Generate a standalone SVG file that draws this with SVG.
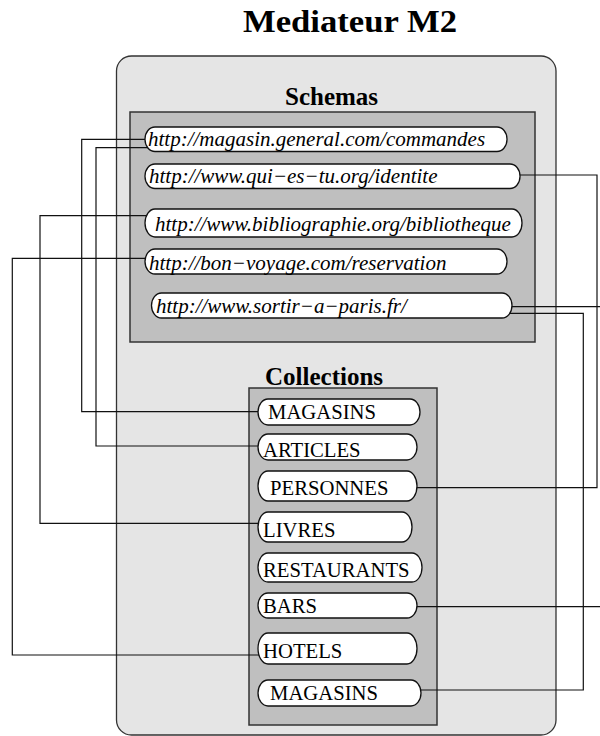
<svg xmlns="http://www.w3.org/2000/svg" width="600" height="736" viewBox="0 0 600 736">
  <style>
    .title { font-family: "Liberation Serif", "Times New Roman", serif; font-weight: bold; fill: #000; }
    .frame { fill: #e5e5e5; stroke: #333; stroke-width: 1.3; }
    .panel { fill: #bfbfbf; stroke: #333; stroke-width: 1.5; }
    .pill { fill: #fff; stroke: #111; stroke-width: 1.3; }
    .uri { font-family: "Liberation Serif", "Times New Roman", serif; font-style: italic; font-size: 21px; fill: #000; }
    .coll { font-family: "Liberation Serif", "Times New Roman", serif; font-size: 20.7px; fill: #000; }
    .wire { fill: none; stroke: #111; stroke-width: 1.2; }
  </style>

  <text class="title" x="243" y="32" font-size="32" textLength="214" lengthAdjust="spacingAndGlyphs">Mediateur M2</text>

  <g id="mediateur">
    <rect class="frame" x="116.5" y="56" width="439.5" height="679" rx="15" ry="15"/>
  </g>

  <g id="schemas">
    <rect class="panel" x="130" y="112" width="405" height="230"/>
    <text class="title" x="285" y="105" font-size="25">Schemas</text>
  </g>

  <g id="collections">
    <rect class="panel" x="249" y="388" width="188" height="337"/>
    <text class="title" x="265" y="385" font-size="25">Collections</text>
  </g>

  <g id="connectors">
    <path class="wire" d="M150,139.3 H81.7 V411.7 H262"/>
    <path class="wire" d="M150,147.7 H96 V446 H262"/>
    <path class="wire" d="M150,215.7 H40 V523.3 H262"/>
    <path class="wire" d="M150,258.3 H12.3 V655 H262"/>
    <path class="wire" d="M515,175 H597 V487.7 H412"/>
    <path class="wire" d="M508,306.7 H606 V606.7 H412"/>
    <path class="wire" d="M508,313.3 H583.3 V690 H416"/>
  </g>

  <g id="s-commandes">
    <rect class="pill" x="145" y="127" width="362" height="24.5" rx="10" ry="12"/>
    <text class="uri" x="148" y="146">http://magasin.general.com/commandes</text>
  </g>
  <g id="s-identite">
    <rect class="pill" x="145" y="164" width="375" height="24.5" rx="10" ry="12"/>
    <text class="uri" x="149" y="183">http://www.qui−es−tu.org/identite</text>
  </g>
  <g id="s-bibliotheque">
    <rect class="pill" x="145" y="209" width="377" height="28" rx="10" ry="14"/>
    <text class="uri" x="155" y="231">http://www.bibliographie.org/bibliotheque</text>
  </g>
  <g id="s-reservation">
    <rect class="pill" x="145" y="249" width="362" height="25" rx="10" ry="12.5"/>
    <text class="uri" x="149" y="270">http://bon−voyage.com/reservation</text>
  </g>
  <g id="s-sortir">
    <rect class="pill" x="151.5" y="293" width="360.5" height="25" rx="10" ry="12.5"/>
    <text class="uri" x="156" y="313">http://www.sortir−a−paris.fr/</text>
  </g>

  <g id="c-magasins">
    <rect class="pill" x="258" y="399" width="162" height="26" rx="10" ry="13"/>
    <text class="coll" x="268" y="419.3">MAGASINS</text>
  </g>
  <g id="c-articles">
    <rect class="pill" x="258" y="434" width="159" height="26" rx="10" ry="13"/>
    <text class="coll" x="263" y="456.7">ARTICLES</text>
  </g>
  <g id="c-personnes">
    <rect class="pill" x="258" y="471" width="159" height="30" rx="10" ry="15"/>
    <text class="coll" x="270" y="495">PERSONNES</text>
  </g>
  <g id="c-livres">
    <rect class="pill" x="258" y="512" width="154" height="30" rx="10" ry="15"/>
    <text class="coll" x="263" y="536.7">LIVRES</text>
  </g>
  <g id="c-restaurants">
    <rect class="pill" x="258" y="553" width="164" height="29" rx="10" ry="14.5"/>
    <text class="coll" x="263" y="577">RESTAURANTS</text>
  </g>
  <g id="c-bars">
    <rect class="pill" x="258" y="593" width="159" height="25" rx="10" ry="12.5"/>
    <text class="coll" x="263" y="613">BARS</text>
  </g>
  <g id="c-hotels">
    <rect class="pill" x="258" y="633" width="159" height="31" rx="10" ry="15.5"/>
    <text class="coll" x="263" y="658">HOTELS</text>
  </g>
  <g id="c-magasins-2">
    <rect class="pill" x="258" y="680" width="163" height="26" rx="10" ry="13"/>
    <text class="coll" x="270" y="700">MAGASINS</text>
  </g>
</svg>
